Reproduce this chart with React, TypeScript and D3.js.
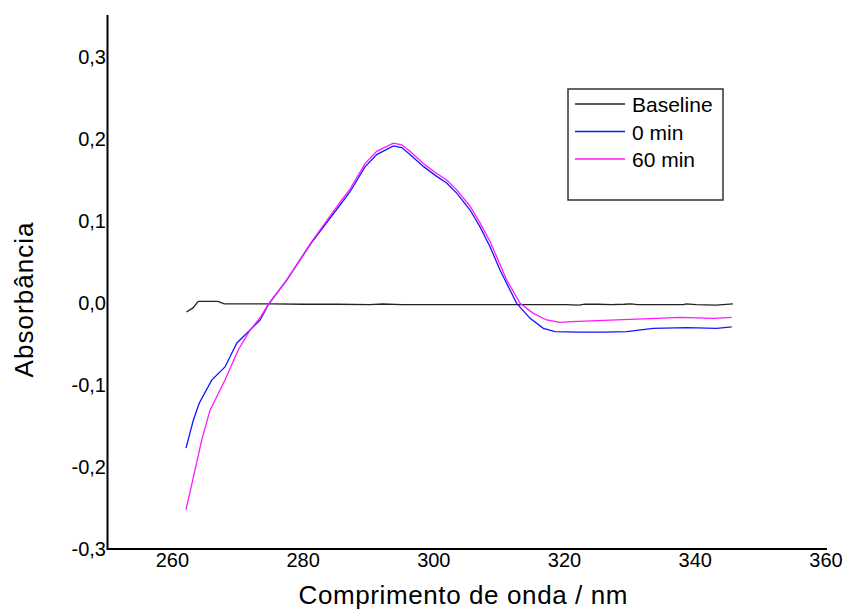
import React from "react";
import * as d3 from "d3";

const xTicks = [260, 280, 300, 320, 340, 360];
const yTicks = [-0.3, -0.2, -0.1, 0.0, 0.1, 0.2, 0.3];

const baselineNm = [262.0, 263.0, 263.8, 266.8, 267.8, 270, 275, 280, 285, 290, 292, 295, 300, 305, 310, 315, 320, 322, 323, 325, 327, 329, 330, 331, 335, 338, 338.5, 340, 343, 345.6];
const baselineAbs = [-0.011, -0.006, 0.002, 0.002, -0.001, -0.001, -0.001, -0.0015, -0.0015, -0.002, -0.0012, -0.002, -0.002, -0.002, -0.002, -0.002, -0.002, -0.0025, -0.0015, -0.0015, -0.002, -0.0015, -0.001, -0.002, -0.002, -0.002, -0.001, -0.002, -0.0025, -0.001];

const min0Nm = [261.93, 263.05, 263.97, 265.87, 267.9, 269.69, 271.73, 273.26, 274.53, 277.34, 281.0, 285.5, 287.03, 289.32, 291.11, 293.65, 294.94, 296.2, 298.24, 300.29, 301.82, 303.35, 305.39, 306.9, 308.45, 309.97, 311.5, 312.53, 314.57, 316.6, 318.39, 322, 326, 329.36, 333.38, 338.54, 343.13, 345.42];
const min0Abs = [-0.177, -0.143, -0.122, -0.094, -0.078, -0.049, -0.033, -0.021, -0.002, 0.028, 0.072, 0.1195, 0.1357, 0.166, 0.181, 0.1915, 0.1895, 0.181, 0.1666, 0.1544, 0.1463, 0.134, 0.1134, 0.0931, 0.0687, 0.0402, 0.0159, -0.0004, -0.0187, -0.0309, -0.035, -0.0355, -0.0355, -0.035, -0.031, -0.030, -0.031, -0.029];

const min60Nm = [261.93, 263.3, 264.34, 265.6, 267.9, 269.94, 271.73, 273.26, 274.5, 277.34, 281.0, 285.5, 287.03, 289.32, 291.11, 293.65, 294.94, 296.2, 298.24, 300.29, 301.82, 303.35, 305.39, 306.9, 308.45, 309.97, 311.0, 313.04, 315.07, 317.12, 319.15, 320.94, 327.83, 333.95, 337.52, 342.61, 345.42];
const min60Abs = [-0.252, -0.204, -0.167, -0.131, -0.094, -0.057, -0.033, -0.018, -0.002, 0.028, 0.073, 0.123, 0.139, 0.170, 0.185, 0.195, 0.193, 0.185, 0.170, 0.158, 0.150, 0.138, 0.118, 0.098, 0.075, 0.047, 0.028, -0.0004, -0.0126, -0.0207, -0.0236, -0.0228, -0.0207, -0.0187, -0.0175, -0.0187, -0.0175];

const seriesNames = ["Baseline", "0 min", "60 min"];
const seriesColors = ["#222222", "#1515ff", "#ff18ff"];

const FONT = "'Liberation Sans', Arial, sans-serif";

export default function App() {
  const x = d3.scaleLinear().domain([250, 360]).range([108, 827]);
  const y = d3.scaleLinear().domain([-0.3, 0.3]).range([549, 57]);
  const line = d3
    .line<[number, number]>()
    .x((d) => x(d[0]))
    .y((d) => y(d[1]));

  const series: [number, number][][] = [
    baselineNm.map((n, i) => [n, baselineAbs[i]]),
    min0Nm.map((n, i) => [n, min0Abs[i]]),
    min60Nm.map((n, i) => [n, min60Abs[i]]),
  ];

  const fmt = (v: number) => (Math.abs(v) < 1e-9 ? "0,0" : d3.format(".1f")(v).replace(".", ",").replace("−", "-"));

  return (
    <div style={{ position: "absolute", left: 0, top: 0 }}>
      <svg width={843} height={610} style={{ display: "block", background: "#fff" }}>
        {series.map((s, i) => (
          <path key={i} d={line(s) || ""} fill="none" stroke={seriesColors[i]} strokeWidth={1.3} />
        ))}
        <line x1={107.5} x2={107.5} y1={15} y2={550} stroke="#000" strokeWidth={2} />
        <line x1={107} x2={827} y1={549} y2={549} stroke="#000" strokeWidth={2} />
        {yTicks.map((t) => (
          <text key={t} x={106} y={y(t) + 7} textAnchor="end" fontFamily={FONT} fontSize={20} fill="#000">
            {fmt(t)}
          </text>
        ))}
        {xTicks.map((t) => (
          <text key={t} x={x(t) - 1} y={567} textAnchor="middle" fontFamily={FONT} fontSize={20} fill="#000">
            {t}
          </text>
        ))}
        <text x={463} y={604} textAnchor="middle" fontFamily={FONT} fontSize={26} textLength={329} lengthAdjust="spacing" fill="#000">
          Comprimento de onda / nm
        </text>
        <text transform="translate(33,300) rotate(-90)" textAnchor="middle" fontFamily={FONT} fontSize={26} textLength={155} lengthAdjust="spacing" fill="#000">
          Absorbância
        </text>
        <rect x={568} y={89} width={155} height={111} fill="#fff" stroke="#333" strokeWidth={1.5} />
        {seriesNames.map((n, i) => (
          <g key={n}>
            <line x1={575} x2={625} y1={104 + i * 27.5} y2={104 + i * 27.5} stroke={seriesColors[i]} strokeWidth={1.3} />
            <text x={632} y={112 + i * 27.5} fontFamily={FONT} fontSize={21} fill="#000">
              {n}
            </text>
          </g>
        ))}
      </svg>
    </div>
  );
}
